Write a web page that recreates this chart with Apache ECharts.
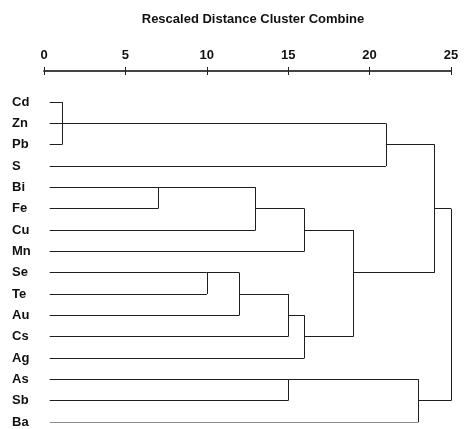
<!DOCTYPE html>
<html>
<head>
<meta charset="utf-8">
<script src="https://cdn.jsdelivr.net/npm/echarts@6/dist/echarts.min.js"></script>
<style>
  html, body { margin: 0; padding: 0; background: #fff; }
  #chart { width: 466px; height: 429px; }
</style>
</head>
<body>
<div id="chart"></div>
<script>
// leaves, top to bottom
const leaves = ['Cd', 'Zn', 'Pb', 'S', 'Bi', 'Fe', 'Cu', 'Mn', 'Se', 'Te', 'Au', 'Cs', 'Ag', 'As', 'Sb', 'Ba']
const xTicks = [0, 5, 10, 15, 20, 25]
const leafStart = 0.35

// merge steps (children first), distance, and the row the outgoing line leaves from
const mergeNames = ['A', 'B', 'C', 'D', 'E', 'F', 'G', 'H', 'I', 'J', 'K', 'L', 'M', 'N']
const mergeChildren = [
  ['Cd', 'Zn', 'Pb'],
  ['A', 'S'],
  ['Bi', 'Fe'],
  ['C', 'Cu'],
  ['D', 'Mn'],
  ['Se', 'Te'],
  ['F', 'Au'],
  ['G', 'Cs'],
  ['H', 'Ag'],
  ['E', 'I'],
  ['B', 'J'],
  ['As', 'Sb'],
  ['L', 'Ba'],
  ['K', 'M'],
]
const mergeDist = [1.1, 21, 7, 13, 16, 10, 12, 15, 16, 19, 24, 15, 23, 25]
const mergeRow = ['Zn', 'Pb', 'Bi', 'Fe', 'Cu', 'Se', 'Te', 'Au', 'Cs', 'Se', 'Fe', 'As', 'Sb', 'Fe']

// build segments
const rowOf = {}
leaves.forEach((n, i) => { rowOf[n] = i })
const parentDist = {}
mergeNames.forEach((name, i) => {
  rowOf[name] = rowOf[mergeRow[i]]
  mergeChildren[i].forEach((c) => { parentDist[c] = mergeDist[i] })
})

const segments = []
leaves.forEach((n) => {
  segments.push({ coords: [[leafStart, rowOf[n]], [parentDist[n], rowOf[n]]] })
})
mergeNames.forEach((name, i) => {
  const rows = mergeChildren[i].map((c) => rowOf[c])
  const d = mergeDist[i]
  segments.push({ coords: [[d, Math.min(...rows)], [d, Math.max(...rows)]] })
  if (parentDist[name] !== undefined) {
    segments.push({ coords: [[d, rowOf[name]], [parentDist[name], rowOf[name]]] })
  }
})

const chart = echarts.init(document.getElementById('chart'))
const font = 'Liberation Sans, Arial, sans-serif'

const baseX = {
  type: 'value',
  position: 'top',
  offset: 31,
  min: xTicks[0],
  max: xTicks[xTicks.length - 1],
  interval: 5,
  splitLine: { show: false },
}

chart.setOption({
  animation: false,
  backgroundColor: '#fff',
  title: {
    text: 'Rescaled Distance Cluster Combine',
    left: 248,
    textAlign: 'center',
    top: 8,
    textStyle: { fontFamily: font, fontSize: 13, fontWeight: 'bold', color: '#111' },
  },
  grid: { left: 44, right: 15, top: 102, bottom: 7, containLabel: false },
  xAxis: [
    {
      ...baseX,
      axisLine: { show: true, onZero: false, lineStyle: { color: '#444', width: 2 } },
      axisTick: { show: true, length: 4, lineStyle: { color: '#222', width: 1 } },
      axisLabel: { margin: 9, fontFamily: font, fontSize: 13, fontWeight: 'bold', color: '#111' },
    },
    {
      // second pass so the ticks cross the axis line
      ...baseX,
      axisLine: { show: false, onZero: false },
      axisTick: { show: true, inside: true, length: 4, lineStyle: { color: '#222', width: 1 } },
      axisLabel: { show: false },
    },
  ],
  yAxis: {
    type: 'value',
    inverse: true,
    min: 0,
    max: leaves.length - 1,
    interval: 1,
    axisLine: { show: false },
    axisTick: { show: false },
    splitLine: { show: false },
    axisLabel: {
      align: 'left',
      margin: 32,
      fontFamily: font,
      fontSize: 13,
      fontWeight: 'bold',
      color: '#111',
      formatter: (v) => leaves[v] || '',
    },
  },
  series: [
    {
      type: 'lines',
      coordinateSystem: 'cartesian2d',
      silent: true,
      lineStyle: { color: '#1e1e1e', width: 1, opacity: 1, curveness: 0 },
      data: segments,
    },
  ],
})
</script>
</body>
</html>
